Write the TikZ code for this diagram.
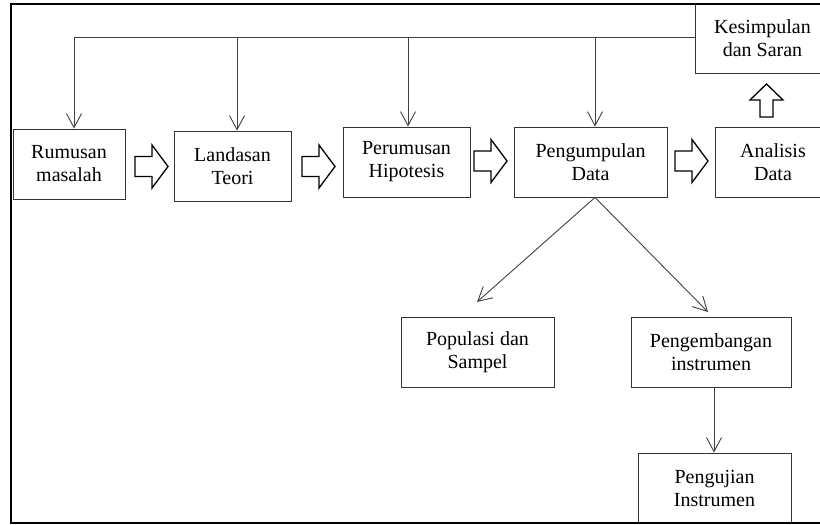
\documentclass[tikz,border=0pt]{standalone}
\usepackage{fontspec}
\setmainfont{Liberation Serif}
\usetikzlibrary{arrows.meta}
\begin{document}
\begin{tikzpicture}[x=1pt,y=-1pt,
  box/.style={draw=black!80, line width=0.9pt, fill=white, align=center, inner sep=0pt,
    font=\fontsize{20}{23}\selectfont},
  fline/.style={draw=black!75, line width=0.9pt},
  fb/.style={fline, -{Straight Barb[length=14pt,width=15pt,line width=0.9pt]}},
  blk/.style={draw=black, line width=1.3pt, fill=white, line join=miter},
  rblock/.pic={\draw[blk] (0,-10) -- (17,-10) -- (17,-21.5) -- (33,0) -- (17,21.5) -- (17,10) -- (0,10) -- cycle;}]
\useasboundingbox (0,0) rectangle (820,525);

% boxes
\node[box, minimum width=112pt, minimum height=70pt] (rm) at (69,164) {Rumusan\\masalah};
\node[box, minimum width=117pt, minimum height=70pt] (ld) at (232.5,166) {Landasan\\Teori};
\node[box, minimum width=127pt, minimum height=70pt] (ph) at (406.5,162) {Perumusan\\Hipotesis};
\node[box, minimum width=153pt, minimum height=70pt] (pd) at (590.5,162) {Pengumpulan\\Data};
\node[box, minimum width=116pt, minimum height=70pt] (ad) at (773,162) {Analisis\\Data};
\node[box, minimum width=135pt, minimum height=69pt] (ks) at (762.5,38.5) {Kesimpulan\\dan Saran};
\node[box, minimum width=153pt, minimum height=70pt] (ps) at (477.5,352) {Populasi dan\\Sampel};
\node[box, minimum width=160pt, minimum height=70pt] (pe) at (711,352) {Pengembangan\\instrumen};
\node[box, minimum width=153pt, minimum height=70pt] (pu) at (714.5,488) {Pengujian\\Instrumen};

% outer frame
\draw[line width=2.2pt, black] (830,4) -- (11,4) -- (11,523) -- (830,523);

% feedback line
\coordinate (f1) at (74,37);
\coordinate (f2) at (237,37);
\coordinate (f3) at (408,37);
\coordinate (f4) at (595,37);
\draw[fline] (f1) -- (ks.west |- f1);
\draw[fb] (f1) -- (f1 |- rm.north);
\draw[fb] (f2) -- (f2 |- ld.north);
\draw[fb] (f3) -- (f3 |- ph.north);
\draw[fb] (f4) -- (f4 |- pd.north);

% diagonal arrows
\coordinate (d0) at (f4 |- pd.south);
\coordinate (d1) at (477,302);
\coordinate (d2) at (708,312);
\draw[fb] (d0) -- (d1);
\draw[fb] (d0) -- (d2);

% vertical arrow
\coordinate (v) at (714,387);
\draw[fb] (v) -- (v |- pu.north);

% block arrows
\pic at (135,166.5) {rblock};
\pic at (302,166.5) {rblock};
\pic at (474,161) {rblock};
\pic at (675,161) {rblock};
\draw[blk] (760,117) -- (760,100) -- (750,100) -- (766.5,84) -- (783,100) -- (773,100) -- (773,117) -- cycle;
\end{tikzpicture}
\end{document}
